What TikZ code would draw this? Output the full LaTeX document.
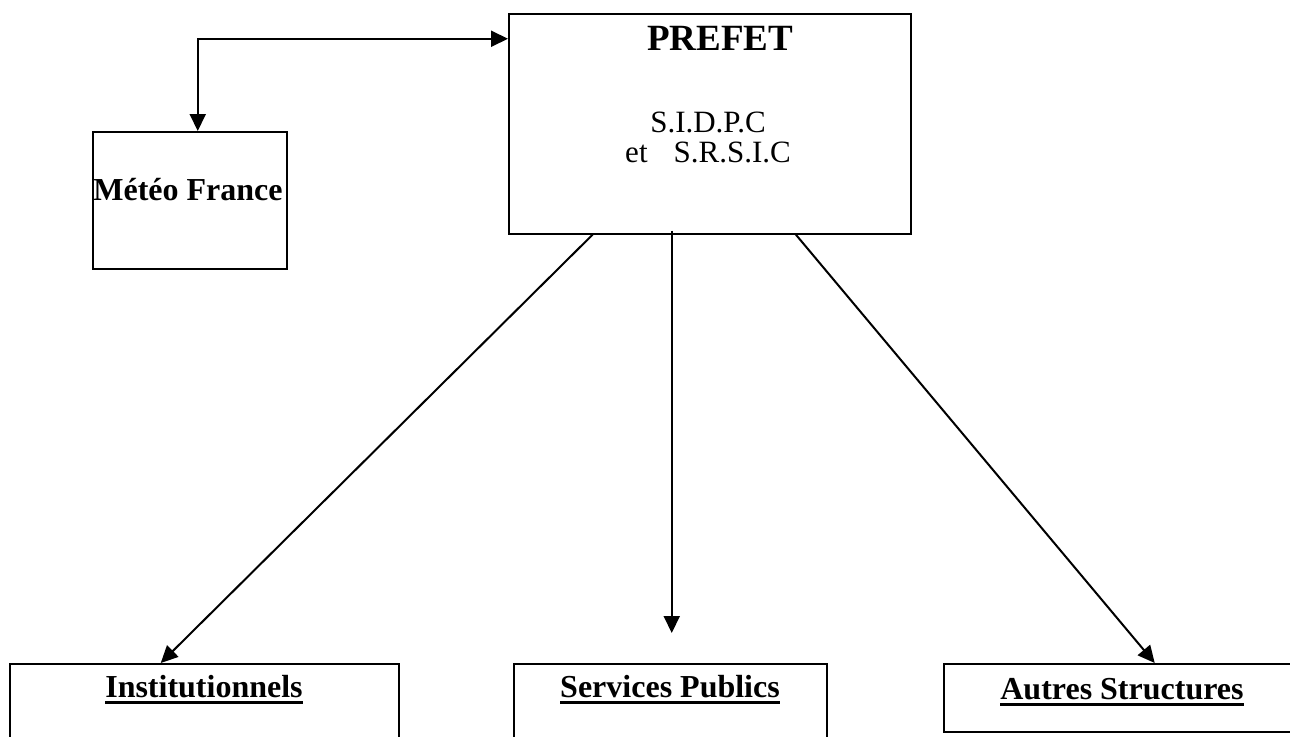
\documentclass[tikz,border=0pt]{standalone}
\usepackage{fontspec}
\setmainfont{Liberation Serif}
\usepackage{tikz}
\usetikzlibrary{shapes,arrows.meta}
\newcommand{\souligne}[1]{\setbox0=\hbox{#1}\rlap{\rule[-7pt]{\wd0}{3pt}}\box0}

\begin{document}
\begin{tikzpicture}[x=1pt,y=-1pt]
	\tikzstyle{boite}=[rectangle,draw=black,line width=1.5pt,inner sep=0pt,
	anchor=north west]
	\tikzstyle{titre}=[anchor=base,inner sep=0pt,font=\bfseries\fontsize{32}{36}\selectfont]
	\tikzstyle{texte}=[anchor=base,inner sep=0pt,font=\fontsize{31}{34}\selectfont]

	\useasboundingbox (0,0) rectangle (1290,736);

	\node[boite,minimum width=402pt,minimum height=220pt] (prefet) at (508,13) {};
	\node[boite,minimum width=194pt,minimum height=137pt] (meteo) at (92,131) {};
	\node[boite,minimum width=389pt,minimum height=120pt] (inst) at (9,663) {};
	\node[boite,minimum width=313pt,minimum height=120pt] (serv) at (513,663) {};
	\node[boite,minimum width=359pt,minimum height=68pt] (autres) at (943,663) {};

	\node[titre,font=\bfseries\fontsize{37}{40}\selectfont] (prefet-nom) at (720,50) {PREFET};
	\node[texte] (prefet-sid) at (708,132) {S.I.D.P.C};
	\node[texte] (prefet-srs) at (708,162) {et\hspace{26pt}S.R.S.I.C};
	\node[titre] (meteo-nom) at (188,200) {Météo France};
	\node[titre] (inst-nom) at (204,697) {\souligne{Institutionnels}};
	\node[titre] (serv-nom) at (670,697) {\souligne{Services Publics}};
	\node[titre] (autres-nom) at (1122,699) {\souligne{Autres Structures}};

	\tikzstyle{suite}=[->,>={Triangle[length=17pt,width=16pt]},line width=2pt]

	\draw[suite,<->] ([yshift=85pt]prefet.west) -| ([xshift=8pt]meteo.north);
	\draw[suite] ([xshift=-117pt]prefet.south) -- ([xshift=-43.5pt]inst.north);
	\draw[suite] ([xshift=-38pt,yshift=4pt]prefet.south) -- ([xshift=1.5pt,yshift=30pt]serv.north);
	\draw[suite] ([xshift=86pt]prefet.south) -- ([xshift=31.5pt]autres.north);
\end{tikzpicture}
\end{document}
